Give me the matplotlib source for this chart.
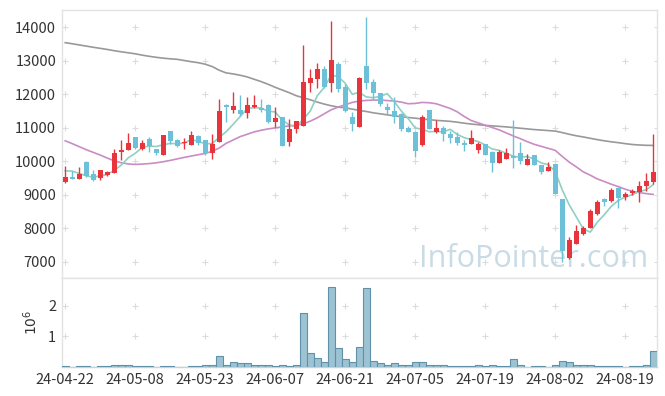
import matplotlib
matplotlib.use("Agg")
import matplotlib.pyplot as plt
import numpy as np

plt.rcParams['font.family'] = ['Noto Sans CJK KR', 'DejaVu Sans']

opens = [9390, 9530, 9480, 9990, 9620, 9520, 9590, 9660, 10290, 10350,
         10720, 10360, 10660, 10360, 10200, 10900, 10640, 10540, 10500, 10750,
         10640, 10260, 10590, 11680, 11530, 11530, 11430, 11610, 11590, 11680,
         11180, 11310, 10590, 10960, 11060, 12350, 12460, 12760, 12350, 12900,
         12210, 11330, 11030, 12850, 12380, 12030, 11630, 11510, 11410, 11000,
         10880, 10490, 11530, 10880, 11010, 10810, 10730, 10550, 10530, 10350,
         10520, 10280, 9960, 10070, 10150, 10260, 9900, 10190, 9890, 9720,
         9920, 8870, 7130, 7550, 7830, 8020, 8420, 8890, 8820, 9210,
         8930, 9050, 9090, 9270, 9390]
highs = [9860, 9710, 9820, 10000, 9750, 9750, 9700, 10370, 10630, 10840,
         10730, 10640, 10740, 10380, 10800, 10900, 10680, 10690, 10900, 10790,
         10640, 10830, 11860, 11700, 12060, 11980, 11930, 11980, 11850, 11700,
         11610, 11310, 11280, 11200, 13470, 12750, 12940, 12850, 14190, 12960,
         12300, 11480, 12520, 14320, 12450, 12050, 11750, 11930, 11430, 11050,
         10900, 11380, 11530, 11230, 11050, 10910, 10880, 10640, 10925, 10570,
         10520, 10300, 10330, 10390, 11230, 10570, 10210, 10190, 9890, 9970,
         9920, 8870, 7740, 8100, 8070, 8580, 8860, 8900, 9220, 9230,
         9090, 9170, 9410, 9660, 10820]
lows = [9370, 9480, 9470, 9540, 9430, 9450, 9560, 9650, 10030, 10330,
        10370, 10330, 10270, 10190, 10190, 10520, 10420, 10360, 10490, 10490,
        10190, 10060, 10580, 11180, 11430, 11350, 11300, 11590, 11480, 11150,
        11030, 10460, 10460, 10850, 11060, 12080, 12180, 12180, 12080, 12080,
        11480, 10900, 11030, 12150, 11820, 11650, 11400, 11150, 10900, 10880,
        10140, 10460, 10960, 10860, 10620, 10560, 10490, 10320, 10520, 10240,
        10180, 9690, 9950, 10060, 9790, 9920, 9890, 9890, 9620, 9720,
        9020, 7000, 7100, 7530, 7800, 8010, 8410, 8670, 8800, 8600,
        8860, 9000, 8800, 9130, 9330]
closes = [9530, 9480, 9620, 9550, 9460, 9730, 9670, 10250, 10340, 10540,
          10410, 10540, 10470, 10260, 10800, 10620, 10470, 10580, 10790, 10540,
          10240, 10520, 11500, 11630, 11650, 11400, 11680, 11680, 11540, 11180,
          11300, 10470, 10960, 11200, 12380, 12480, 12760, 12210, 13030, 12150,
          11510, 11110, 12500, 12350, 12030, 11700, 11530, 11310, 10960, 10880,
          10320, 11310, 10960, 11000, 10810, 10700, 10560, 10480, 10700, 10520,
          10190, 9960, 10280, 10260, 10100, 10020, 10070, 9900, 9690, 9830,
          9020, 7330, 7660, 7920, 8020, 8520, 8790, 8790, 9160, 8910,
          9040, 9120, 9280, 9410, 9690]
volume_m = [0.02, 0.005, 0.02, 0.02, 0.005, 0.02, 0.02, 0.08, 0.05, 0.08,
            0.02, 0.02, 0.02, 0.005, 0.02, 0.02, 0.005, 0.005, 0.02, 0.02,
            0.05, 0.05, 0.37, 0.08, 0.15, 0.12, 0.12, 0.05, 0.05, 0.05,
            0.02, 0.08, 0.02, 0.08, 1.75, 0.47, 0.28, 0.18, 2.63, 0.61,
            0.25, 0.18, 0.64, 2.57, 0.21, 0.12, 0.08, 0.12, 0.08, 0.08,
            0.18, 0.15, 0.05, 0.05, 0.05, 0.02, 0.02, 0.02, 0.02, 0.05,
            0.02, 0.05, 0.02, 0.02, 0.25, 0.08, 0.005, 0.02, 0.02, 0.005,
            0.08, 0.21, 0.18, 0.08, 0.05, 0.05, 0.02, 0.02, 0.02, 0.02,
            0.005, 0.02, 0.02, 0.08, 0.51]
ma5 = [9720, 9710, 9640, 9570, 9530, 9568, 9606, 9732, 9890, 10106,
       10242, 10416, 10460, 10444, 10496, 10538, 10524, 10546, 10652, 10600,
       10524, 10534, 10718, 10886, 11108, 11340, 11572, 11608, 11590, 11496,
       11476, 11234, 11090, 11022, 11262, 11498, 11956, 12206, 12572, 12526,
       12332, 12002, 12060, 11924, 11900, 11938, 12022, 11784, 11506, 11276,
       11000, 10956, 10886, 10894, 10880, 10956, 10806, 10710, 10650, 10592,
       10490, 10370, 10330, 10242, 10158, 10124, 10146, 10070, 9956, 9902,
       9702, 9154, 8706, 8352, 7990, 7890, 8182, 8408, 8656, 8834,
       8938, 9004, 9102, 9152, 9308]
ma20 = [10615, 10530, 10440, 10350, 10270, 10190, 10100, 10018, 9960, 9925,
        9910, 9920, 9935, 9958, 9990, 10030, 10075, 10119, 10160, 10200,
        10239, 10300, 10400, 10540, 10640, 10740, 10810, 10880, 10930, 10970,
        11000, 11030, 11060, 11080, 11120, 11200, 11300, 11420, 11540, 11620,
        11690, 11760, 11800, 11820, 11830, 11830, 11815, 11800, 11770, 11720,
        11730, 11760, 11750, 11720, 11650, 11580, 11480, 11340, 11220, 11150,
        11080, 11010, 10940, 10850, 10760, 10680, 10590, 10510, 10450, 10390,
        10330, 10150, 9980, 9840, 9690, 9590, 9480, 9400, 9320, 9250,
        9170, 9110, 9070, 9040, 9015]
ma120 = [13541, 13510, 13475, 13440, 13405, 13373, 13340, 13302, 13270, 13240,
         13210, 13170, 13135, 13105, 13080, 13060, 13045, 13010, 12975, 12945,
         12900, 12830, 12720, 12640, 12610, 12570, 12520, 12450, 12380, 12300,
         12210, 12130, 12050, 11960, 11900, 11840, 11770, 11710, 11660, 11620,
         11600, 11560, 11520, 11490, 11450, 11420, 11390, 11360, 11335, 11310,
         11290, 11265, 11245, 11225, 11210, 11195, 11170, 11140, 11115, 11095,
         11075, 11060, 11045, 11030, 11010, 10990, 10970, 10950, 10935, 10920,
         10905, 10860, 10810, 10765, 10730, 10690, 10650, 10615, 10585, 10560,
         10530, 10505, 10490, 10480, 10477]
tick_idx = [0, 10, 20, 30, 40, 50, 60, 70, 80]
tick_labels = ['24-04-22', '24-05-08', '24-05-23', '24-06-07', '24-06-21',
               '24-07-05', '24-07-19', '24-08-02', '24-08-19']
price_ticks = [7000, 8000, 9000, 10000, 11000, 12000, 13000, 14000]
vol_ticks = [1, 2]

UP = '#e8353c'
DOWN = '#6cc0d8'
SPINE = '#e3e3e3'
TXT = '#333333'

fig = plt.figure(figsize=(6.65, 3.96), dpi=100)
ax = fig.add_axes([0.0928, 0.2972, 0.8947, 0.6775])
axv = fig.add_axes([0.0928, 0.0732, 0.8947, 0.2240], sharex=ax)

x = np.arange(len(closes))
o = np.array(opens); c = np.array(closes); h = np.array(highs); l = np.array(lows)
colors = [UP if cc >= oo else DOWN for oo, cc in zip(o, c)]

ax.plot(x, ma120, color='#999999', lw=1.2, zorder=2)
ax.plot(x, ma20, color='#c98cc4', lw=1.2, zorder=2)
ax.plot(x, ma5, color='#8fd0c2', lw=1.2, zorder=2)
ax.vlines(x, l, h, colors=colors, lw=1.0, zorder=3)
bottoms = np.minimum(o, c)
heights = np.maximum(np.abs(c - o), 25)
ax.bar(x, heights, bottom=bottoms, width=0.72, color=colors, zorder=4, linewidth=0)

ax.text(0.985, 0.042, 'InfoPointer.com', transform=ax.transAxes, ha='right', va='baseline',
        fontsize=22, color='#b7cfdc', alpha=0.75, family=['Open Sans', 'DejaVu Sans'], zorder=1)

ax.set_xlim(-0.5, len(closes) - 0.5)
ax.set_ylim(6513, 14516)
ax.set_yticks(price_ticks)
ax.set_yticklabels([str(t) for t in price_ticks])
plt.setp(ax.get_xticklabels(), visible=False)

axv.bar(x, volume_m, width=1.0, color='#9dc3d3', edgecolor='#5f92aa', linewidth=0.8, zorder=3)
axv.set_ylim(0, 2.9)
axv.set_yticks(vol_ticks)
axv.set_yticklabels(['1', '2'])
axv.set_xticks(tick_idx)
axv.set_xticklabels(tick_labels)
axv.set_ylabel('$10^6$', color=TXT, fontsize=10, labelpad=6)

for a in (ax, axv):
    a.tick_params(length=0, labelsize=10.5, colors=TXT, pad=4)
    for s in a.spines.values():
        s.set_color(SPINE)
        s.set_linewidth(1.0)
axv.spines['bottom'].set_color('#d0d0d0')

gx, gy = np.meshgrid(tick_idx + [len(closes) - 0.5], price_ticks)
ax.scatter(gx.ravel(), gy.ravel(), marker='+', s=14, color='#dcdcdc', lw=0.8, zorder=0)
gx2, gy2 = np.meshgrid(tick_idx + [len(closes) - 0.5], vol_ticks)
axv.scatter(gx2.ravel(), gy2.ravel(), marker='+', s=14, color='#dcdcdc', lw=0.8, zorder=0)

fig.savefig('out.png', dpi=100)
